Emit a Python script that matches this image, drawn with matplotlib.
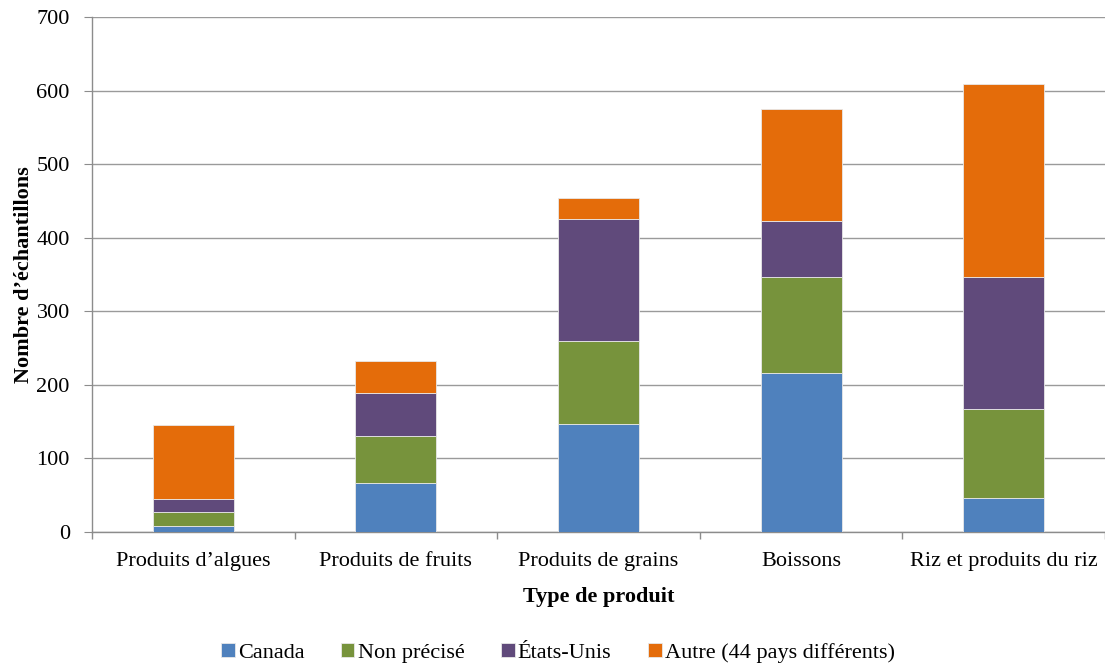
import matplotlib.pyplot as plt
import numpy as np

plt.rcParams["font.family"] = ["Liberation Serif", "DejaVu Serif"]

categories = [
    "Produits d\u2019algues",
    "Produits de fruits",
    "Produits de grains",
    "Boissons",
    "Riz et produits du riz",
]
canada = [8, 66, 147, 216, 46]
non_precise = [18, 64, 112, 130, 121]
etats_unis = [18, 59, 167, 77, 179]
autre = [101, 43, 28, 152, 263]

series = [
    ("Canada", canada, "#4F81BD"),
    ("Non précisé", non_precise, "#77933C"),
    ("États-Unis", etats_unis, "#604A7B"),
    ("Autre (44 pays différents)", autre, "#E46C0A"),
]

fig = plt.figure(figsize=(11.05, 6.64), dpi=100)
ax = fig.add_axes([0.0833, 0.1995, 0.9167, 0.7745])

x = np.arange(len(categories))
bottom = np.zeros(len(categories))
for label, vals, color in series:
    ax.bar(x, vals, width=0.4, bottom=bottom, color=color, label=label,
           edgecolor="#e8e8e8", linewidth=0.6, zorder=3)
    bottom += np.array(vals)

ax.set_xlim(-0.5, len(categories) - 0.5)
ax.set_ylim(0, 700)
ax.set_yticks(range(0, 701, 100))
ax.yaxis.grid(True, color="#9a9a9a", linewidth=1.0, zorder=0)
ax.set_axisbelow(True)

for side in ("top", "right"):
    ax.spines[side].set_visible(False)
for side in ("left", "bottom"):
    ax.spines[side].set_color("#8c8c8c")
    ax.spines[side].set_linewidth(1.0)

# category labels in the middle, small separators between categories
ax.set_xticks(x)
ax.set_xticklabels(categories)
ax.set_xticks(np.arange(-0.5, len(categories)), minor=True)
ax.tick_params(axis="x", which="major", length=0, pad=15, labelsize=16)
ax.tick_params(axis="x", which="minor", direction="out", length=5,
               color="#8c8c8c", width=1.0)
ax.tick_params(axis="y", direction="out", length=6, color="#8c8c8c",
               labelsize=16, pad=10)

ax.set_xlabel("Type de produit", fontsize=16, fontweight="bold", labelpad=11)
ax.set_ylabel("Nombre d\u2019échantillons", fontsize=16, fontweight="bold",
              labelpad=2)

fig.legend(loc="center", bbox_to_anchor=(558 / 1105, 11 / 664), ncol=4,
           frameon=False, fontsize=16, handlelength=0.6, handleheight=0.6,
           handletextpad=0.15, columnspacing=1.65)

fig.savefig("out.png", dpi=100)
